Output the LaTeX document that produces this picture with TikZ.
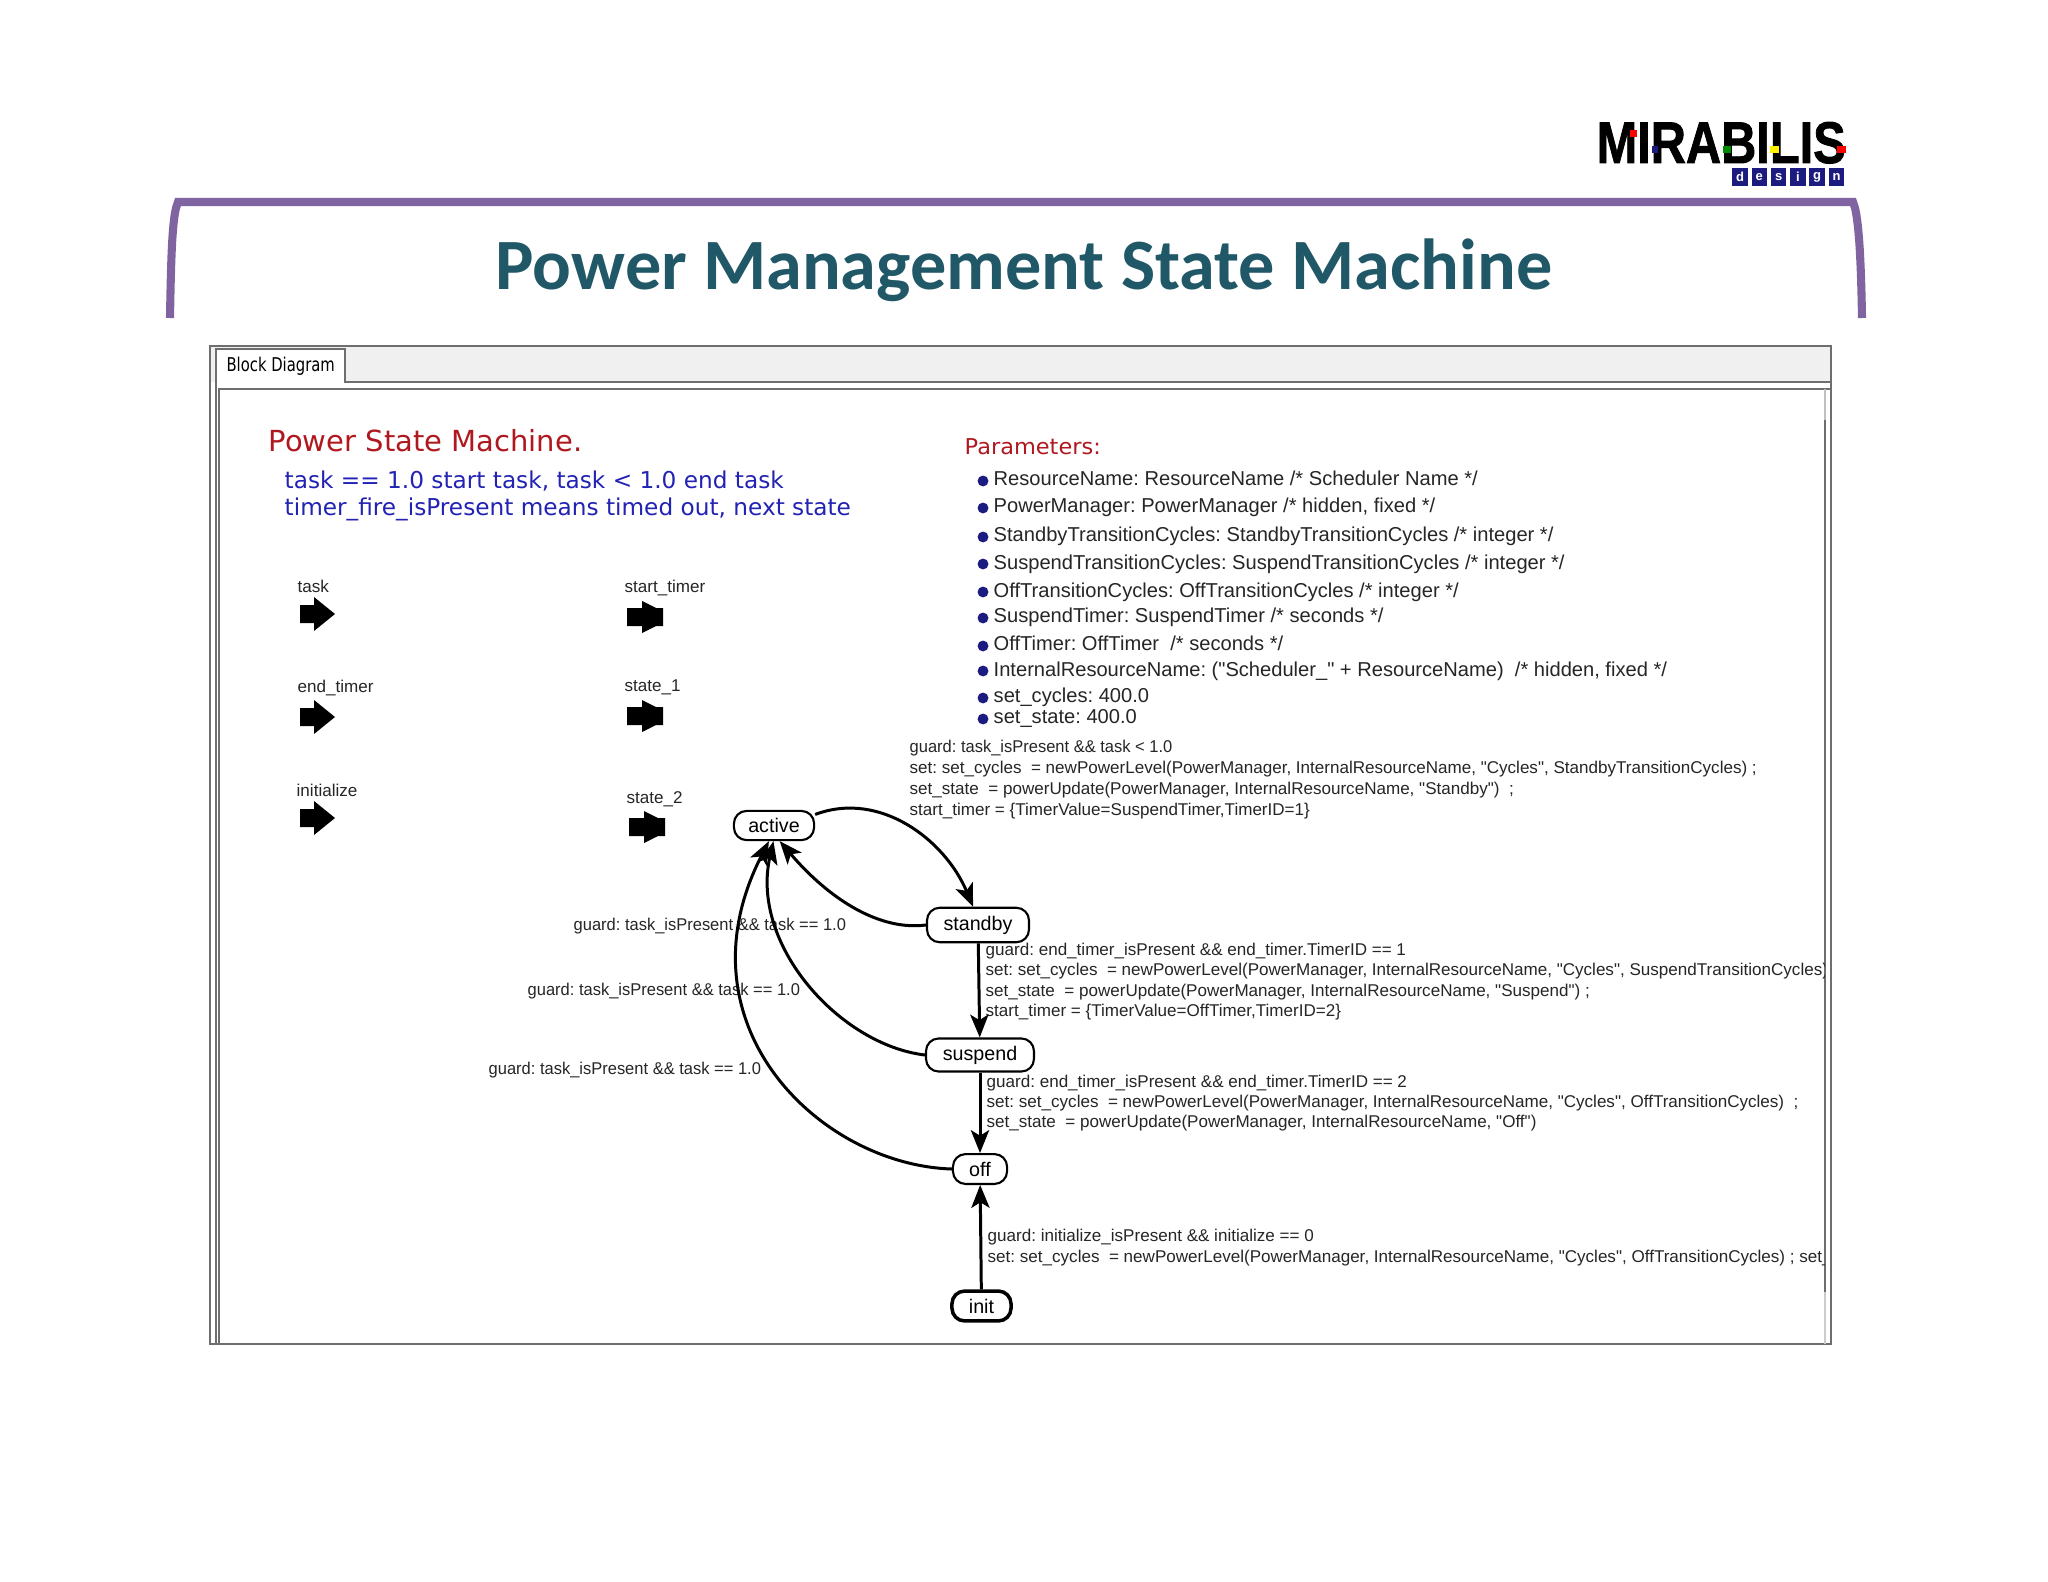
\documentclass[tikz,border=0pt]{standalone}
\usepackage{fontspec}
\setmainfont{Liberation Sans}
\newfontfamily\alapfont{Liberation Sans}
\newfontfamily\titlefont{Carlito}
\newfontfamily\tabfont{DejaVu Sans}
\newfontfamily\logofont[FakeBold=1.5]{Liberation Sans}
\usetikzlibrary{arrows.meta}
\definecolor{keret}{HTML}{8064A2}
\definecolor{cimszin}{HTML}{215868}
\definecolor{piros}{HTML}{B01820}
\definecolor{kek}{HTML}{2222B4}
\definecolor{sotetkek}{HTML}{1C1C80}
\definecolor{vonal}{HTML}{6E6E6E}
\tikzset{
  allas/.style={draw,line width=0.6pt,rounded corners=3.6pt,fill=white,inner sep=0pt,font=\fontsize{5.6}{6}\selectfont},
  atmenet/.style={-{Stealth[length=6.5pt,width=5.2pt,inset=1.6pt]},line width=0.85pt},
  felirat/.style={anchor=base west,inner sep=0pt,text=black!85,font=\alapfont\frenchspacing\fontsize{4.85}{5.7}\selectfont},
  portnev/.style={anchor=base west,inner sep=0pt,text=black!85,font=\fontsize{4.85}{5.7}\selectfont},
  parmsor/.style={anchor=base west,inner sep=0pt,text=black!85,font=\alapfont\frenchspacing\fontsize{5.72}{6.5}\selectfont},
  pont/.style={circle,fill=sotetkek,inner sep=0pt,minimum size=3.1pt},
  keknev/.style={anchor=base west,inner sep=0pt,text=kek,font=\tabfont\fontsize{6.6}{7.5}\selectfont},
}
\begin{document}
\begin{tikzpicture}[x=0.01cm,y=-0.01cm]
  \path[use as bounding box,fill=white] (0,0) rectangle (2048,1582);
  % 1. logo
  \node[anchor=base west,inner sep=0pt,xscale=.83,font=\logofont\bfseries\fontsize{16.7}{18}\selectfont] (logo) at (1596,163) {MIRABILIS};
  \fill[red] (1630,130) rectangle (1637,137);
  \fill[sotetkek] (1652,146) rectangle (1658,153);
  \fill[green!55!black] (1723,146) rectangle (1731,153);
  \fill[yellow] (1770,146) rectangle (1779,153);
  \fill[red] (1837,146) rectangle (1846,153);
  \foreach \betu [count=\i from 0] in {d,e,s,i,g,n}
    \node[fill=sotetkek,text=white,inner sep=0pt,minimum width=4.4pt,minimum height=5.1pt,font=\bfseries\fontsize{3.7}{5}\selectfont]
      (dz\i) at ({1740+19.3*\i},177) {\betu};
  % 2. title
  \draw[keret,line width=2.3pt] (170,318) .. controls (171,260) and (172,225) .. (176,208)
     -- (178,202) -- (1853,202) -- (1855,208) .. controls (1859,225) and (1861,260) .. (1862,318);
  \node[anchor=base,inner sep=0pt,text=cimszin,font=\titlefont\bfseries\fontsize{20.55}{22}\selectfont] (cim) at (1024,290)
    {Power Management State Machine};
  % 3. window frame
  \fill[black!6] (210,347) rectangle (1831,382);
  \fill[white] (216,349) rectangle (345,384);
  \draw[vonal,line width=0.5pt] (210,346) rectangle (1831,1344);
  \draw[vonal,line width=0.5pt] (216,1344) -- (216,349) -- (345,349) -- (345,382) -- (1831,382);
  \draw[vonal,line width=0.5pt] (219,1344) -- (219,389) -- (1831,389);
  \draw[black!25,line width=0.4pt] (1825,389) -- (1825,420);
  \draw[vonal,line width=0.5pt] (1825,420) -- (1825,1292);
  \draw[black!20,line width=0.4pt] (1825,1292) -- (1825,1344);
  \node[anchor=base west,inner sep=0pt,xscale=.78,font=\tabfont\fontsize{5.4}{6}\selectfont] (tab) at (226,371) {Block Diagram};
  % 4. headings
  \node[anchor=base west,inner sep=0pt,text=piros,font=\tabfont\fontsize{8.25}{9}\selectfont] (fejlec) at (268,451) {Power State Machine.};
  \node[keknev] (kek1) at (284,488) {task == 1.0 start task, task < 1.0 end task};
  \node[keknev] (kek2) at (284,515) {timer\_fire\_isPresent means timed out, next state};
  \node[anchor=base west,inner sep=0pt,text=piros,xscale=1.03,font=\tabfont\fontsize{6.2}{7}\selectfont] (parm) at (964,454) {Parameters:};
  % 5. ports
  \foreach \nev/\px/\py/\ax/\ay in {task/297/592/300/614,end\_timer/297/692/300/717,initialize/296/796/300/818}{
    \node[portnev] at (\px,\py) {\nev};
    \fill[shift={(\ax,\ay)}] (0,-9) -- (14,-9) -- (14,-17) -- (35,0) -- (14,17) -- (14,9) -- (0,9) -- cycle;
  }
  \foreach \nev/\px/\py/\ax/\ay in {start\_timer/624/592/627/617,state\_1/624/691/627/716,state\_2/626/803/629/827}{
    \node[portnev] at (\px,\py) {\nev};
    \fill[shift={(\ax,\ay)}] (0,-9) -- (15,-9) -- (15,-16) -- (29,-9) -- (36,-9) -- (36,9) -- (29,9) -- (15,16) -- (15,9) -- (0,9) -- cycle;
  }
  % 6. parameter list
  \foreach \by/\ty/\sor [count=\i] in {
    481/485/{ResourceName: ResourceName /* Scheduler Name */},
    508/512/{PowerManager: PowerManager /* hidden, fixed */},
    537/541/{StandbyTransitionCycles: StandbyTransitionCycles /* integer */},
    564/569/{SuspendTransitionCycles: SuspendTransitionCycles /* integer */},
    592/597/{OffTransitionCycles: OffTransitionCycles /* integer */},
    618/622/{SuspendTimer: SuspendTimer /* seconds */},
    646/650/{OffTimer: OffTimer \ /* seconds */},
    671/676/{InternalResourceName: ("Scheduler\_" + ResourceName) \ /* hidden, fixed */},
    698/702/{set\_cycles: 400.0},
    719/723/{set\_state: 400.0}}{
    \node[pont] (p\i) at (983,\by) {};
    \node[parmsor] (s\i) at (993,\ty) {\sor};
  }
  % 7. transition labels
  \begin{scope}
    \clip (220,390) rectangle (1824,1343);
    \foreach \fx/\fy/\sor in {
      909/773/{set: set\_cycles \ = newPowerLevel(PowerManager, InternalResourceName, "Cycles", StandbyTransitionCycles) ;},
      909/794/{set\_state \ = powerUpdate(PowerManager, InternalResourceName, "Standby") \ ;},
      909/815/{start\_timer = \{TimerValue=SuspendTimer,TimerID=1\}},
      985/955/{guard: end\_timer\_isPresent \&\& end\_timer.TimerID == 1},
      985/975/{set: set\_cycles \ = newPowerLevel(PowerManager, InternalResourceName, "Cycles", SuspendTransitionCycles) ;},
      985/996/{set\_state \ = powerUpdate(PowerManager, InternalResourceName, "Suspend") ;},
      985/1016/{start\_timer = \{TimerValue=OffTimer,TimerID=2\}},
      986/1087/{guard: end\_timer\_isPresent \&\& end\_timer.TimerID == 2},
      986/1107/{set: set\_cycles \ = newPowerLevel(PowerManager, InternalResourceName, "Cycles", OffTransitionCycles) \ ;},
      986/1127/{set\_state \ = powerUpdate(PowerManager, InternalResourceName, "Off")},
      987/1241/{guard: initialize\_isPresent \&\& initialize == 0},
      987/1262/{set: set\_cycles \ = newPowerLevel(PowerManager, InternalResourceName, "Cycles", OffTransitionCycles) ; set\_}}
      \node[felirat] at (\fx,\fy) {\sor};
    \foreach \fx/\fy/\sor in {
      909/752/{guard: task\_isPresent \&\& task < 1.0},
      573/930/{guard: task\_isPresent \&\& task == 1.0},
      527/995/{guard: task\_isPresent \&\& task == 1.0},
      488/1074/{guard: task\_isPresent \&\& task == 1.0}}
      \node[felirat,xscale=.967] at (\fx,\fy) {\sor};
  \end{scope}
  % 8. states
  \node[allas,minimum width=22.8pt,minimum height=8.3pt] (active) at (774,825.5) {active};
  \node[allas,minimum width=29pt,minimum height=9.8pt] (standby) at (978,925) {standby};
  \node[allas,minimum width=30.7pt,minimum height=9.4pt] (suspend) at (980,1055) {suspend};
  \node[allas,minimum width=15.4pt,minimum height=8.5pt] (off) at (980,1169) {off};
  \node[allas,line width=1pt,minimum width=16.8pt,minimum height=8.5pt] (init) at (981.5,1306) {init};
  % 9. transitions
  \draw[atmenet] (active.15) .. controls (880,790) and (945,840) .. (standby.105);
  \draw[atmenet] (standby.west) .. controls (880,931) and (830,900) .. (active.-70);
  \draw[atmenet] (suspend.west) .. controls (840,1045) and (750,945) .. (active.-92);
  \draw[atmenet] (off.west) .. controls (820,1165) and (675,1025) .. (active.-108);
  \draw[atmenet] (standby) -- (suspend);
  \draw[atmenet] (suspend) -- (off);
  \draw[atmenet] (init) -- (off);
\end{tikzpicture}
\end{document}
